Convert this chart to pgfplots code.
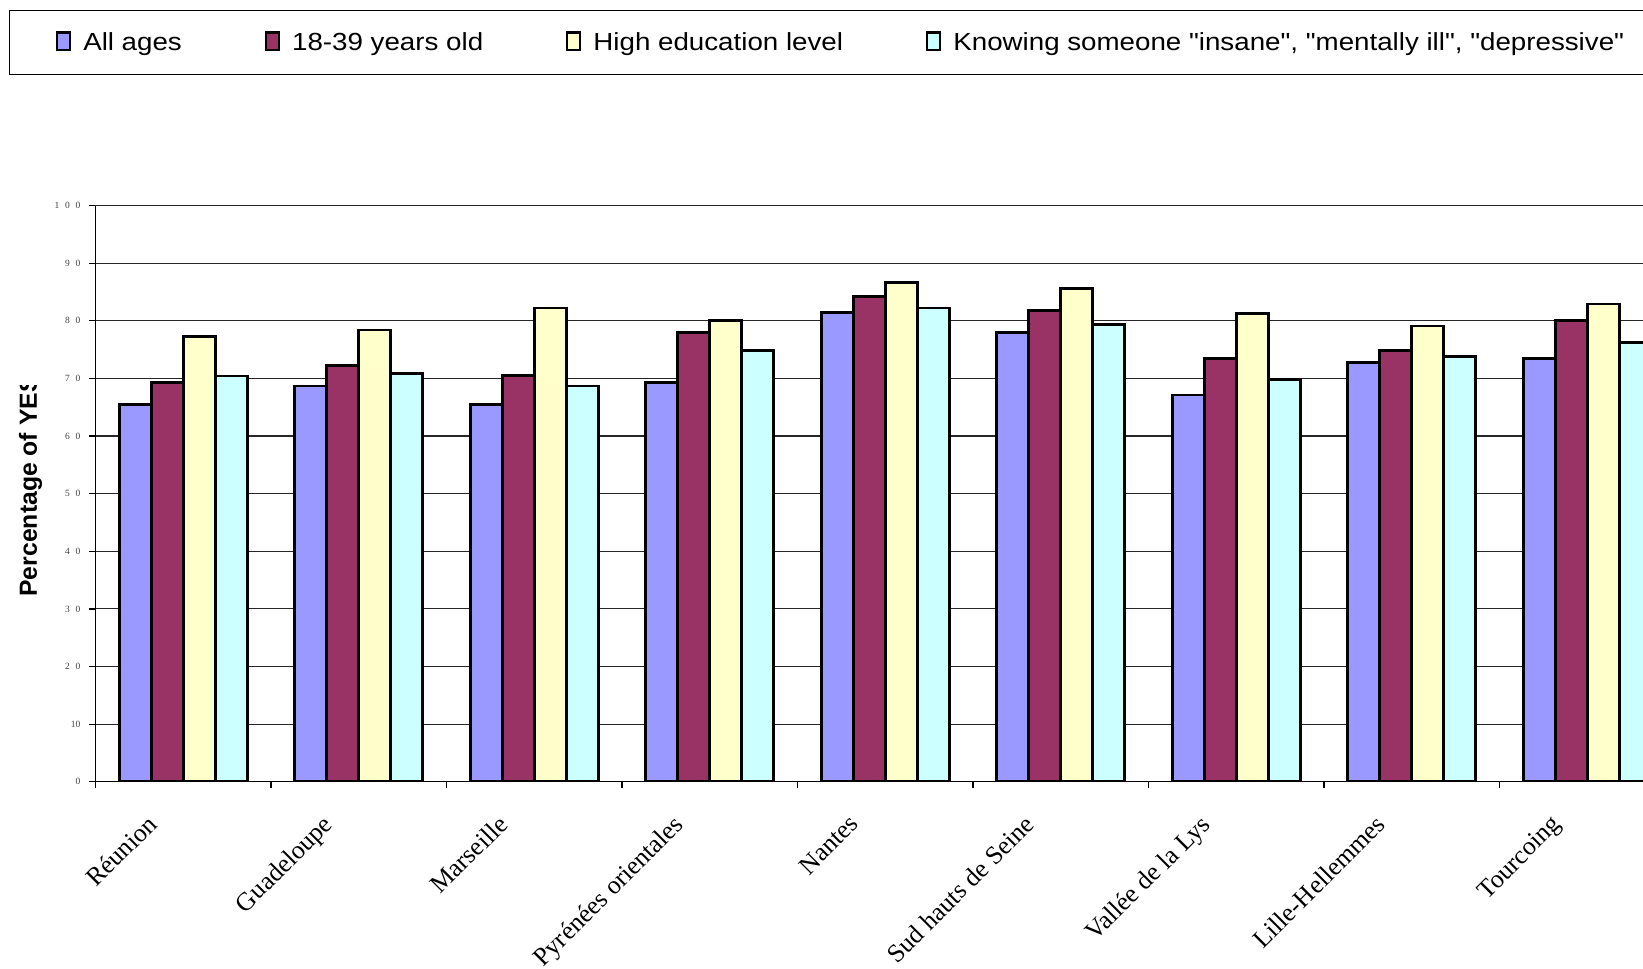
\documentclass[border=0pt]{standalone}
\usepackage{fontspec}
\setmainfont{Liberation Serif}
\setsansfont{Liberation Sans}
\newfontfamily\legendfont[FakeStretch=1.12]{Liberation Sans}
\usepackage{pgfplots}
\usepackage{pgfplotstable}
\pgfplotsset{compat=1.18}

\definecolor{allages}{HTML}{9999FF}
\definecolor{young}{HTML}{993366}
\definecolor{higher}{HTML}{FFFFCC}
\definecolor{knowing}{HTML}{CCFFFF}

% share of YES answers per site
\pgfplotstableread{
idx all   young edu  know
0   65.5  69.3  77.3 70.4
1   68.7  72.2  78.4 70.8
2   65.5  70.5  82.2 68.7
3   69.3  78.0  80.0 74.9
4   81.4  84.2  86.7 82.2
5   78.0  81.8  85.6 79.3
6   67.1  73.5  81.3 69.8
7   72.8  74.9  79.1 73.8
8   73.5  80.0  82.9 76.2
}\ratings

\newcommand{\px}{0.4pt}
\newcommand{\gap}{\hspace{0.6em}}

\pgfplotsset{
  legsq/.style={legend image code/.code={%
      \draw[##1, line width=0.9pt] (0pt,-2.6pt) rectangle (5.2pt,4.3pt);}},
}

\begin{document}
\begin{tikzpicture}
\useasboundingbox (0,0) rectangle (1643*\px,-968*\px);
\clip (0,0) rectangle (1643*\px,-968*\px);

\begin{axis}[
  at={(95.4*\px,-781.8*\px)}, anchor=south west,
  scale only axis, width=631.8pt, height=230.52pt,
  xmin=-0.5, xmax=8.5, ymin=0, ymax=100,
  ybar=0pt, bar width=12.8pt,
  axis lines*=left,
  axis line style={black, line width=0.5pt},
  tick align=outside, major tick length=2.4pt,
  tick style={black, line width=0.5pt},
  ytick={0,10,...,100},
  yticklabels={0,10,2\gap0,3\gap0,4\gap0,5\gap0,6\gap0,7\gap0,8\gap0,9\gap0,1\gap0\gap0},
  yticklabel style={font=\fontsize{3.8}{4.5}\selectfont, text=black!75,
    anchor=east, inner sep=0pt, xshift=-3.4pt},
  ymajorgrids,
  major grid style={black!85, line width=0.45pt},
  xtick={-0.5,0.5,...,8.5},
  xticklabels={},
  extra x ticks={0,1,2,3,4,5,6,7,8},
  extra x tick labels={Réunion,Guadeloupe,Marseille,Pyrénées orientales,Nantes,Sud hauts de Seine,Vallée de la Lys,Lille-Hellemmes,Tourcoing},
  extra x tick style={major tick length=0pt, grid=none,
    tick label style={font=\rmfamily\fontsize{10.3}{12}\selectfont,
      xshift=-15pt, yshift=-12.4pt, rotate=45, anchor=north east, inner sep=0pt}},
  legend columns=4,
  legend cell align=left,
  legend style={
    draw=none, fill=none,
    at={(-0.02494,1.2823)}, anchor=west,
    inner sep=0pt, outer sep=0pt,
    font=\legendfont\fontsize{9.9}{12}\selectfont,
    nodes={inner sep=0pt},
    /tikz/every odd column/.append style={column sep=4.8pt},
    /tikz/every even column/.append style={column sep=33.2pt},
  },
]
\addplot[fill=allages, draw=black, line width=1.1pt, legsq] table[x=idx, y=all] {\ratings};
\addlegendentry{All ages}
\addplot[fill=young, draw=black, line width=1.1pt, legsq] table[x=idx, y=young] {\ratings};
\addlegendentry{18-39 years old}
\addplot[fill=higher, draw=black, line width=1.1pt, legsq] table[x=idx, y=edu] {\ratings};
\addlegendentry{High education level}
\addplot[fill=knowing, draw=black, line width=1.1pt, legsq] table[x=idx, y=know] {\ratings};
\addlegendentry{Knowing someone "insane", "mentally ill", "depressive"}
\end{axis}

% frame around the legend, running off to the right
\draw[black, line width=0.5pt] (9.3*\px,-10.6*\px) rectangle (1720*\px,-74.6*\px);

% y-axis title, cut off at its top end
\begin{scope}
  \clip (0,-385.5*\px) rectangle (120*\px,-968*\px);
  \node[rotate=90, anchor=west, inner sep=0pt,
        font=\sffamily\bfseries\fontsize{9.9}{12}\selectfont]
    at (30.5*\px,-597*\px) {Percentage of YES};
\end{scope}
\end{tikzpicture}
\end{document}
